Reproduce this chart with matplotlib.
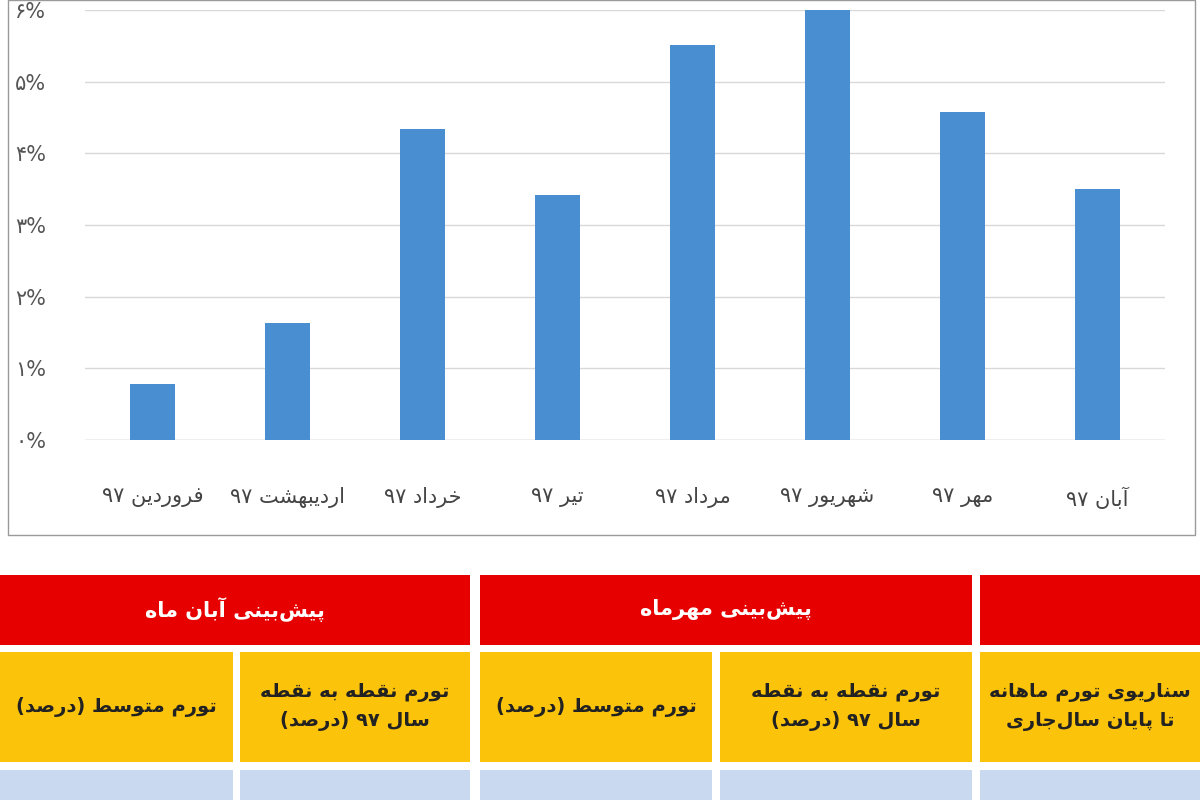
import matplotlib.pyplot as plt
from matplotlib.patches import Rectangle

plt.rcParams["font.family"] = "DejaVu Sans"

months = ["فروردین ۹۷", "اردیبهشت ۹۷", "خرداد ۹۷", "تیر ۹۷",
          "مرداد ۹۷", "شهریور ۹۷", "مهر ۹۷", "آبان ۹۷"]
inflation = [0.78, 1.63, 4.34, 3.42, 5.51, 6.05, 4.57, 3.50]
y_ticks = [0, 1, 2, 3, 4, 5, 6]
y_labels = ["۰%", "۱%", "۲%", "۳%", "۴%", "۵%", "۶%"]

header_row = ["پیش‌بینی آبان ماه", "پیش‌بینی مهرماه", ""]
sub_row = ["تورم متوسط (درصد)", "تورم نقطه به نقطه\nسال ۹۷ (درصد)",
           "تورم متوسط (درصد)", "تورم نقطه به نقطه\nسال ۹۷ (درصد)",
           "سناریوی تورم ماهانه\nتا پایان سال‌جاری"]

# minimal Persian shaper: (isolated, final, initial, medial)
FORMS = {
    "ا": (0xFE8D, 0xFE8E, None, None), "آ": (0xFE81, 0xFE82, None, None),
    "د": (0xFEA9, 0xFEAA, None, None), "ر": (0xFEAD, 0xFEAE, None, None),
    "ز": (0xFEAF, 0xFEB0, None, None), "و": (0xFEED, 0xFEEE, None, None),
    "ب": (0xFE8F, 0xFE90, 0xFE91, 0xFE92), "پ": (0xFB56, 0xFB57, 0xFB58, 0xFB59),
    "ت": (0xFE95, 0xFE96, 0xFE97, 0xFE98), "ج": (0xFE9D, 0xFE9E, 0xFE9F, 0xFEA0),
    "خ": (0xFEA5, 0xFEA6, 0xFEA7, 0xFEA8), "س": (0xFEB1, 0xFEB2, 0xFEB3, 0xFEB4),
    "ش": (0xFEB5, 0xFEB6, 0xFEB7, 0xFEB8), "ص": (0xFEB9, 0xFEBA, 0xFEBB, 0xFEBC),
    "ط": (0xFEC1, 0xFEC2, 0xFEC3, 0xFEC4), "ف": (0xFED1, 0xFED2, 0xFED3, 0xFED4),
    "ق": (0xFED5, 0xFED6, 0xFED7, 0xFED8), "ل": (0xFEDD, 0xFEDE, 0xFEDF, 0xFEE0),
    "م": (0xFEE1, 0xFEE2, 0xFEE3, 0xFEE4), "ن": (0xFEE5, 0xFEE6, 0xFEE7, 0xFEE8),
    "ه": (0xFEE9, 0xFEEA, 0xFEEB, 0xFEEC), "ی": (0xFBFC, 0xFBFD, 0xFBFE, 0xFBFF),
}


def shape_word(w):
    out = []
    for i, c in enumerate(w):
        if c not in FORMS:
            out.append("" if c == "\u200c" else c)
            continue
        prev = w[i - 1] if i > 0 else None
        nxt = w[i + 1] if i + 1 < len(w) else None
        join_prev = prev in FORMS and FORMS[prev][2] is not None
        join_next = nxt in FORMS and FORMS[c][2] is not None
        iso, fin, ini, med = FORMS[c]
        if join_prev and join_next:
            code = med
        elif join_prev:
            code = fin
        elif join_next:
            code = ini
        else:
            code = iso
        out.append(chr(code))
    s = "".join(out)[::-1]
    return s.translate(str.maketrans("()", ")("))


def rtl(text):
    lines = []
    for line in text.split("\n"):
        words = [w if w.isdigit() else shape_word(w) for w in line.split(" ")]
        lines.append(" ".join(words[::-1]))
    return "\n".join(lines)


fig = plt.figure(figsize=(12, 8), dpi=100)

# chart frame
fig.patches.append(Rectangle((8 / 1200, 1 - 535 / 800), 1187 / 1200, 535 / 800,
                             transform=fig.transFigure, fill=False,
                             edgecolor="#9a9a9a", linewidth=1))

ax = fig.add_axes([85 / 1200, 1 - 440 / 800, 1080 / 1200, 430 / 800])
x = list(range(len(months)))
ax.bar(x, inflation, width=0.33, color="#4A8ED2", zorder=3)
ax.set_xlim(-0.5, len(months) - 0.5)
ax.set_ylim(0, 6)
ax.set_yticks(y_ticks)
ax.set_yticklabels(y_labels, fontsize=15, color="#555555")
ax.set_xticks(x)
ax.set_xticklabels([rtl(m) for m in months], fontsize=15, color="#444444")
ax.tick_params(length=0)
ax.tick_params(axis="x", pad=34)
ax.tick_params(axis="y", pad=28)
ax.grid(axis="y", color="#d9d9d9", linewidth=1, zorder=0)
for s in ax.spines.values():
    s.set_visible(False)
ax.axhline(0, color="#d0d0d0", linewidth=1, zorder=2)


def cell(x0, x1, y0, y1, color, text, tcolor="#222222", size=15):
    fig.patches.append(Rectangle((x0 / 1200, 1 - y1 / 800), (x1 - x0) / 1200,
                                 (y1 - y0) / 800, transform=fig.transFigure,
                                 facecolor=color, edgecolor="none"))
    if text:
        fig.text((x0 + x1) / 2400, 1 - (y0 + y1) / 1600, rtl(text),
                 ha="center", va="center", fontsize=size, fontweight="bold",
                 color=tcolor, linespacing=1.6)


red, yellow, blue = "#E60000", "#FCC30B", "#C9DAF0"
head_cols = [(0, 470), (480, 972), (980, 1200)]
for (a, b), t in zip(head_cols, header_row):
    cell(a, b, 575, 645, red, t, "white")
sub_cols = [(0, 233), (240, 470), (480, 712), (720, 972), (980, 1200)]
for (a, b), t in zip(sub_cols, sub_row):
    cell(a, b, 652, 762, yellow, t, size=14)
    cell(a, b, 770, 800, blue, "")

fig.savefig("out.png", dpi=100)
